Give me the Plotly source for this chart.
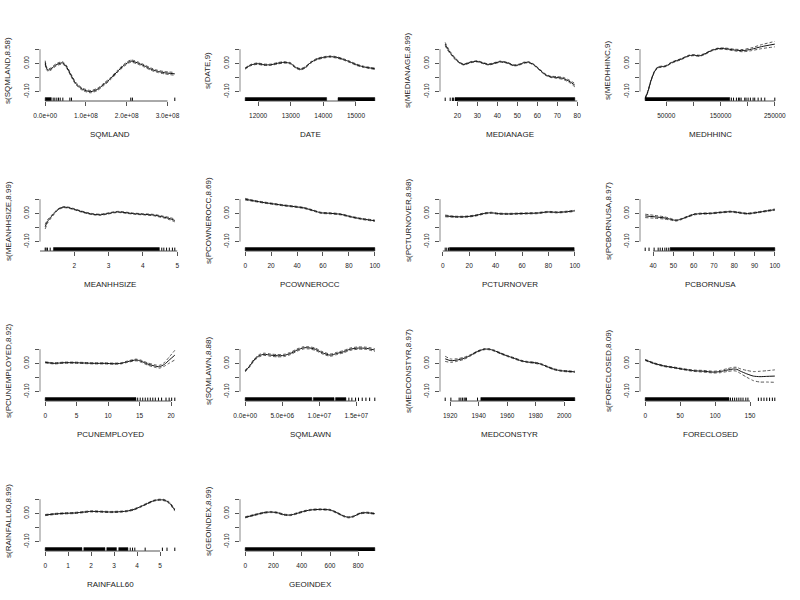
import plotly.graph_objects as go

# ---------------- data ----------------
NAMES = ["SQMLAND", "DATE", "MEDIANAGE", "MEDHHINC", "MEANHHSIZE", "PCOWNEROCC",
         "PCTURNOVER", "PCBORNUSA", "PCUNEMPLOYED", "SQMLAWN", "MEDCONSTYR",
         "FORECLOSED", "RAINFALL60", "GEOINDEX"]
EDF = ["8.58", "9", "8.99", "9", "8.99", "8.69", "8.98", "8.97", "8.92", "8.88",
       "8.97", "8.09", "8.99", "8.99"]

SQMLAND_X = [0, 0.033e8, 0.074e8, 0.14e8, 0.26e8, 0.42e8, 0.51e8, 0.63e8, 0.75e8, 0.92e8,
             1.12e8, 1.28e8, 1.45e8, 1.61e8, 1.77e8, 1.94e8, 2.10e8, 2.26e8, 2.43e8,
             2.59e8, 2.75e8, 2.92e8, 3.18e8]
SQMLAND_FIT = [0.0035, -0.018, -0.024, -0.020, -0.006, 0.002, -0.009, -0.041, -0.071, -0.092,
               -0.100, -0.092, -0.073, -0.053, -0.029, -0.006, 0.008, 0.002, -0.009,
               -0.020, -0.028, -0.033, -0.037]
SQMLAND_SE = [0.003, 0.0025, 0.002, 0.002, 0.002, 0.002, 0.002, 0.002, 0.002, 0.002,
              0.002, 0.002, 0.002, 0.002, 0.002, 0.002, 0.002, 0.002, 0.002,
              0.002, 0.002, 0.002, 0.0025]
SQMLAND_DENSE = [(0, 0.15e8)]
SQMLAND_RUG = [0.196e8, 0.237e8, 0.286e8, 0.327e8, 0.368e8, 0.433e8, 0.605e8, 0.645e8,
               2.10e8, 2.14e8, 3.18e8]
SQMLAND_TICKS = [0, 1e8, 2e8, 3e8]
SQMLAND_LABELS = ["0.0e+00", "1.0e+08", "2.0e+08", "3.0e+08"]

DATE_X = [11605, 11777, 11980, 12182, 12385, 12588, 12790, 12993, 13145, 13297, 13449,
          13601, 13803, 14006, 14209, 14411, 14614, 14817, 15019, 15222, 15577]
DATE_FIT = [-0.018, -0.006, -0.001, -0.005, -0.005, 0.000, 0.0035, 0.000, -0.014, -0.021,
            -0.014, 0.002, 0.015, 0.021, 0.024, 0.021, 0.014, 0.005, -0.005, -0.012, -0.019]
DATE_SE = [0.0012] * 21
DATE_DENSE = [(11605, 14100), (14450, 15577)]
DATE_RUG = []
DATE_TICKS = [12000, 13000, 14000, 15000]
DATE_LABELS = ["12000", "13000", "14000", "15000"]

MEDIANAGE_X = [13.9, 15.0, 16.7, 19.2, 21.7, 23.3, 26.6, 29.9, 33.3, 35.7, 38.2, 41.5, 44.9,
               48.2, 50.7, 53.2, 55.6, 58.1, 61.4, 63.9, 66.4, 69.7, 73.0, 76.4, 78.8]
MEDIANAGE_FIT = [0.068, 0.053, 0.035, 0.014, 0.000, -0.004, 0.004, 0.007, 0.000, -0.004,
                 0.000, 0.006, 0.002, -0.007, -0.005, 0.002, 0.004, -0.004, -0.024, -0.039,
                 -0.047, -0.050, -0.053, -0.065, -0.077]
MEDIANAGE_SE = [0.003, 0.0025, 0.002, 0.0015, 0.001, 0.001, 0.001, 0.001, 0.001, 0.001,
                0.001, 0.001, 0.001, 0.001, 0.001, 0.001, 0.001, 0.001, 0.001, 0.0012,
                0.0012, 0.0015, 0.0018, 0.0022, 0.003]
MEDIANAGE_DENSE = [(18.8, 78.8)]
MEDIANAGE_RUG = [13.9, 16.4, 17.5, 18.0]
MEDIANAGE_TICKS = [20, 30, 40, 50, 60, 70, 80]
MEDIANAGE_LABELS = ["20", "30", "40", "50", "60", "70", "80"]

MEDHHINC_X = [11300, 16200, 22300, 28400, 34600, 40800, 50000, 59300, 68500, 77700, 90100,
              99300, 111500, 120800, 133100, 145400, 157700, 176100, 191600, 207000,
              225400, 250000]
MEDHHINC_FIT = [-0.124, -0.100, -0.059, -0.029, -0.014, -0.012, -0.009, 0.002, 0.009, 0.015,
                0.026, 0.029, 0.027, 0.033, 0.045, 0.052, 0.052, 0.047, 0.045, 0.050,
                0.059, 0.068]
MEDHHINC_SE = [0.002, 0.0012, 0.001, 0.001, 0.001, 0.001, 0.001, 0.001, 0.001, 0.001, 0.001,
               0.001, 0.001, 0.001, 0.001, 0.001, 0.0012, 0.0015, 0.002, 0.0025, 0.0035, 0.0048]
MEDHHINC_DENSE = [(11300, 167000)]
MEDHHINC_RUG = [170000, 174000, 179300, 183000, 185400, 188000, 194600, 197000, 200800,
                205000, 210000, 213000, 219300, 225000, 231500, 250000]
MEDHHINC_TICKS = [50000, 100000, 150000, 200000, 250000]
MEDHHINC_LABELS = ["50000", "", "150000", "", "250000"]

MEANHHSIZE_X = [1.154, 1.22, 1.318, 1.414, 1.51, 1.607, 1.70, 1.80, 1.99, 2.19, 2.38, 2.57,
                2.76, 2.96, 3.15, 3.29, 3.53, 3.73, 4.02, 4.31, 4.60, 4.79, 4.93]
MEANHHSIZE_FIT = [-0.047, -0.029, -0.014, 0.000, 0.012, 0.019, 0.022, 0.021, 0.015, 0.007,
                  0.001, -0.0035, -0.005, -0.001, 0.0035, 0.005, 0.002, -0.001, -0.0035,
                  -0.006, -0.013, -0.019, -0.025]
MEANHHSIZE_SE = [0.004, 0.003, 0.002, 0.0015, 0.001, 0.001, 0.001, 0.001, 0.001, 0.001,
                 0.001, 0.001, 0.001, 0.001, 0.001, 0.001, 0.001, 0.001, 0.001, 0.0012,
                 0.0015, 0.002, 0.0025]
MEANHHSIZE_DENSE = [(1.395, 4.48)]
MEANHHSIZE_RUG = [1.154, 1.18, 1.22, 1.30, 4.55, 4.61, 4.69, 4.77, 4.86, 4.93]
MEANHHSIZE_TICKS = [1, 2, 3, 4, 5]
MEANHHSIZE_LABELS = ["1", "2", "3", "4", "5"]

PCOWNEROCC_X = [0, 6.9, 14.7, 22.4, 30.1, 37.8, 45.5, 53.2, 58.4, 66.1, 73.8, 81.5, 89.2, 100]
PCOWNEROCC_FIT = [0.050, 0.044, 0.038, 0.033, 0.028, 0.024, 0.019, 0.009, 0.002, 0.000,
                  -0.0035, -0.012, -0.019, -0.026]
PCOWNEROCC_SE = [0.0015, 0.001, 0.001, 0.001, 0.001, 0.001, 0.001, 0.001, 0.001, 0.001,
                 0.001, 0.001, 0.001, 0.0012]
PCOWNEROCC_DENSE = [(0, 100)]
PCOWNEROCC_RUG = []
PCOWNEROCC_TICKS = [0, 20, 40, 60, 80, 100]
PCOWNEROCC_LABELS = ["0", "20", "40", "60", "80", "100"]

PCTURNOVER_X = [1.8, 9.3, 16.8, 24.3, 31.8, 36.8, 41.9, 49.4, 56.9, 64.4, 71.9, 79.4, 87.0,
                94.5, 100]
PCTURNOVER_FIT = [-0.009, -0.012, -0.012, -0.008, 0.000, 0.002, -0.001, -0.002, -0.001,
                  0.000, 0.001, 0.005, 0.0035, 0.006, 0.009]
PCTURNOVER_SE = [0.0015, 0.001, 0.001, 0.001, 0.001, 0.001, 0.001, 0.001, 0.001, 0.001,
                 0.001, 0.001, 0.001, 0.001, 0.0012]
PCTURNOVER_DENSE = [(5.0, 99.5)]
PCTURNOVER_RUG = [1.8, 3.0, 4.3]
PCTURNOVER_TICKS = [0, 20, 40, 60, 80, 100]
PCTURNOVER_LABELS = ["0", "20", "40", "60", "80", "100"]

PCBORNUSA_X = [36.1, 40.5, 45.4, 48.7, 51.2, 53.6, 56.9, 60.2, 63.5, 68.4, 73.4, 78.3, 81.6,
               86.5, 91.5, 96.4, 100]
PCBORNUSA_FIT = [-0.009, -0.012, -0.016, -0.021, -0.025, -0.021, -0.012, -0.0035, -0.001,
                 0.000, 0.0035, 0.006, 0.0035, -0.001, 0.0035, 0.009, 0.013]
PCBORNUSA_SE = [0.003, 0.0025, 0.002, 0.0015, 0.0012, 0.001, 0.001, 0.001, 0.001, 0.001,
                0.001, 0.001, 0.001, 0.001, 0.001, 0.001, 0.0012]
PCBORNUSA_DENSE = [(48.4, 100)]
PCBORNUSA_RUG = [36.1, 38.0, 40.5, 42.5, 43.5, 44.6, 45.8, 46.7, 47.7]
PCBORNUSA_TICKS = [40, 50, 60, 70, 80, 90, 100]
PCBORNUSA_LABELS = ["40", "50", "60", "70", "80", "90", "100"]

PCUNEMPLOYED_X = [0, 1.43, 3.02, 4.62, 6.21, 7.80, 9.39, 10.98, 12.04, 13.1, 14.43, 15.2,
                  16.3, 17.35, 18.14, 18.94, 19.73, 20.6]
PCUNEMPLOYED_FIT = [0.0035, 0.000, 0.0024, 0.0024, 0.0012, 0.000, 0.000, -0.0012, 0.000,
                    0.006, 0.012, 0.008, -0.0024, -0.009, -0.012, -0.0035, 0.012, 0.029]
PCUNEMPLOYED_SE = [0.001, 0.001, 0.001, 0.001, 0.001, 0.001, 0.001, 0.001, 0.001, 0.0012,
                   0.0015, 0.0018, 0.002, 0.0022, 0.0025, 0.0032, 0.0055, 0.0085]
PCUNEMPLOYED_DENSE = [(0, 14.43)]
PCUNEMPLOYED_RUG = [14.7, 15.1, 15.5, 15.9, 16.3, 16.7, 17.1, 17.5, 18.0, 18.5, 19.2, 19.7,
                    20.1, 20.6]
PCUNEMPLOYED_TICKS = [0, 5, 10, 15, 20]
PCUNEMPLOYED_LABELS = ["0", "5", "10", "15", "20"]

SQMLAWN_X = [0, 0.54e6, 1.2e6, 1.88e6, 2.54e6, 3.44e6, 4.33e6, 5.22e6, 6.12e6, 7.0e6, 7.9e6,
             8.57e6, 9.46e6, 10.36e6, 11.47e6, 12.37e6, 13.26e6, 14.15e6, 15.27e6, 16.38e6,
             17.5e6]
SQMLAWN_FIT = [-0.027, -0.012, 0.012, 0.027, 0.032, 0.029, 0.027, 0.028, 0.035, 0.047, 0.055,
               0.055, 0.050, 0.038, 0.029, 0.035, 0.041, 0.050, 0.054, 0.053, 0.047]
SQMLAWN_SE = [0.0015, 0.0015, 0.0015, 0.002, 0.002, 0.002, 0.002, 0.002, 0.002, 0.002, 0.002,
              0.002, 0.002, 0.002, 0.002, 0.002, 0.002, 0.002, 0.002, 0.002, 0.0025]
SQMLAWN_DENSE = [(0, 9.0e6), (9.2e6, 12.0e6), (12.2e6, 13.6e6)]
SQMLAWN_RUG = [14.0e6, 14.4e6, 14.9e6, 15.3e6, 15.8e6, 16.3e6, 16.8e6, 17.5e6]
SQMLAWN_TICKS = [0, 5e6, 1e7, 1.5e7]
SQMLAWN_LABELS = ["0.0e+00", "5.0e+06", "1.0e+07", "1.5e+07"]

MEDCONSTYR_X = [1916.5, 1920.5, 1925.1, 1929.8, 1934.5, 1939.2, 1943.9, 1947.4, 1950.9,
                1955.6, 1960.2, 1964.9, 1969.6, 1974.3, 1978.9, 1983.6, 1988.3, 1993.0,
                1997.7, 2002.3, 2007.5]
MEDCONSTYR_FIT = [0.016, 0.0094, 0.012, 0.018, 0.029, 0.042, 0.050, 0.050, 0.045, 0.035,
                  0.026, 0.018, 0.0094, 0.0047, 0.0024, -0.0024, -0.012, -0.021, -0.026,
                  -0.028, -0.030]
MEDCONSTYR_SE = [0.0045, 0.003, 0.0022, 0.0018, 0.0012, 0.001, 0.001, 0.001, 0.001, 0.001,
                 0.001, 0.001, 0.001, 0.001, 0.001, 0.001, 0.001, 0.001, 0.001, 0.001, 0.0012]
MEDCONSTYR_DENSE = [(1941.5, 2007.5)]
MEDCONSTYR_RUG = [1916.5, 1920.5, 1926.3, 1927.5, 1928.6, 1929.8, 1930.6, 1931.4, 1939.2]
MEDCONSTYR_TICKS = [1920, 1940, 1960, 1980, 2000]
MEDCONSTYR_LABELS = ["1920", "1940", "1960", "1980", "2000"]

FORECLOSED_X = [0, 12.8, 27.0, 41.2, 55.4, 69.6, 83.8, 98.0, 107.4, 116.9, 126.4, 131.1,
                135.8, 145.3, 154.8, 164.2, 173.7, 185.5]
FORECLOSED_FIT = [0.012, 0.000, -0.0094, -0.015, -0.021, -0.026, -0.028, -0.031, -0.029,
                  -0.024, -0.020, -0.021, -0.027, -0.037, -0.045, -0.047, -0.046, -0.045]
FORECLOSED_SE = [0.001, 0.001, 0.001, 0.001, 0.001, 0.0012, 0.0015, 0.0015, 0.002, 0.0025,
                 0.003, 0.0035, 0.004, 0.006, 0.008, 0.0095, 0.010, 0.011]
FORECLOSED_DENSE = [(0, 120)]
FORECLOSED_RUG = [122, 125, 128, 131, 134, 137, 140, 144, 147, 162, 166, 170, 174, 178,
                  182, 185.5]
FORECLOSED_TICKS = [0, 50, 100, 150]
FORECLOSED_LABELS = ["0", "50", "100", "150"]

RAINFALL60_X = [0, 0.39, 0.83, 1.26, 1.70, 1.99, 2.42, 2.86, 3.29, 3.58, 3.87, 4.16, 4.45,
                4.74, 4.96, 5.17, 5.39, 5.64]
RAINFALL60_FIT = [-0.006, -0.0024, 0.000, 0.0012, 0.0047, 0.007, 0.006, 0.0047, 0.006,
                  0.0083, 0.014, 0.024, 0.035, 0.045, 0.048, 0.047, 0.038, 0.012]
RAINFALL60_SE = [0.001] * 15 + [0.0012, 0.0015, 0.002]
RAINFALL60_DENSE = [(0, 1.6), (1.68, 2.6), (2.68, 3.1), (3.2, 3.6)]
RAINFALL60_RUG = [3.7, 3.8, 3.9, 4.35, 5.1, 5.3, 5.64]
RAINFALL60_TICKS = [0, 1, 2, 3, 4, 5]
RAINFALL60_LABELS = ["0", "1", "2", "3", "4", "5"]

GEOINDEX_X = [0, 63, 133, 180, 227, 274, 320, 367, 414, 461, 531, 601, 648, 695, 730, 765,
              812, 858, 917]
GEOINDEX_FIT = [-0.014, -0.006, 0.0024, 0.0047, 0.0024, -0.0047, -0.006, 0.000, 0.007,
                0.012, 0.014, 0.012, 0.0024, -0.0094, -0.014, -0.011, 0.000, 0.0024, -0.0012]
GEOINDEX_SE = [0.001] * 19
GEOINDEX_DENSE = [(0, 917)]
GEOINDEX_RUG = []
GEOINDEX_TICKS = [0, 200, 400, 600, 800]
GEOINDEX_LABELS = ["0", "200", "400", "600", "800"]

# ---------------- assemble ----------------
g = globals()
panels = []
for n in NAMES:
    panels.append(dict(x=g[n + "_X"], fit=g[n + "_FIT"], se=g[n + "_SE"],
                       dense=g[n + "_DENSE"], rug=g[n + "_RUG"],
                       ticks=g[n + "_TICKS"], labels=g[n + "_LABELS"]))

Y_RANGE = [-0.133, 0.079]
Y_TICKS = [-0.10, -0.05, 0.00, 0.05]
Y_LABELS = ["-0.10", "", "0.00", ""]
RUG_H = 0.012
FONT = "Liberation Sans, Arial, Helvetica, sans-serif"
W, H = 800, 600

fig = go.Figure()
shapes = []
annotations = []
layout = {}

for i, p in enumerate(panels):
    r, c = divmod(i, 4)
    sfx = "" if i == 0 else str(i + 1)
    xa, ya = "x" + sfx, "y" + sfx
    upper = [f + 2 * s for f, s in zip(p["fit"], p["se"])]
    lower = [f - 2 * s for f, s in zip(p["fit"], p["se"])]

    for band in (upper, lower):
        fig.add_trace(go.Scatter(x=p["x"], y=band, xaxis=xa, yaxis=ya, mode="lines",
                                 line=dict(color="#444", width=0.9, dash="3px,2px",
                                           shape="spline", smoothing=0.6),
                                 hoverinfo="skip"))
    fig.add_trace(go.Scatter(x=p["x"], y=p["fit"], xaxis=xa, yaxis=ya, mode="lines",
                             line=dict(color="#111", width=1.0, shape="spline", smoothing=0.6)))

    y0 = Y_RANGE[0]
    y1 = Y_RANGE[0] + RUG_H
    for a, b in p["dense"]:
        fig.add_trace(go.Scatter(x=[a, b, b, a, a], y=[y0, y0, y1, y1, y0], xaxis=xa, yaxis=ya,
                                 mode="lines", fill="toself", fillcolor="#000",
                                 line=dict(color="#000", width=0.5), hoverinfo="skip"))
    if p["rug"]:
        rx, ry = [], []
        for v in p["rug"]:
            rx += [v, v, None]
            ry += [y0, y1, None]
        fig.add_trace(go.Scatter(x=rx, y=ry, xaxis=xa, yaxis=ya, mode="lines",
                                 line=dict(color="#000", width=1), hoverinfo="skip"))

    allx = list(p["x"]) + list(p["rug"]) + [v for d in p["dense"] for v in d]
    lo, hi = min(allx), max(allx)
    pad = 0.04 * (hi - lo)

    xdom = [(40 + 200 * c) / W, (180 + 200 * c) / W]
    ydom = [1 - (101 + 150 * r) / H, 1 - (41 + 150 * r) / H]
    tickfont = dict(size=6.5, family=FONT, color="#222")
    layout["xaxis" + sfx] = dict(domain=xdom, range=[lo - pad, hi + pad], anchor=ya,
                                 tickmode="array", tickvals=p["ticks"], ticktext=p["labels"],
                                 ticks="outside", ticklen=4, tickwidth=1, tickcolor="#555",
                                 showgrid=False, zeroline=False, showline=False,
                                 automargin=False, tickfont=tickfont, ticklabelstandoff=4)
    layout["yaxis" + sfx] = dict(domain=ydom, range=Y_RANGE, anchor=xa,
                                 tickmode="array", tickvals=Y_TICKS, ticktext=Y_LABELS,
                                 tickangle=-90, ticks="outside", ticklen=4, tickwidth=1,
                                 tickcolor="#555", showgrid=False, zeroline=False,
                                 showline=False, automargin=False, tickfont=tickfont,
                                 ticklabelstandoff=3)
    # R-style axis lines spanning only the tick range
    shapes.append(dict(type="line", xref=xa, yref=ya + " domain", x0=p["ticks"][0],
                       x1=p["ticks"][-1], y0=0, y1=0, line=dict(color="#555", width=1)))
    shapes.append(dict(type="line", xref=xa + " domain", yref=ya, x0=0, x1=0,
                       y0=Y_TICKS[0], y1=Y_TICKS[-1], line=dict(color="#888", width=1)))
    annotations.append(dict(text=NAMES[i], xref="paper", yref="paper",
                            x=(110 + 200 * c) / W, y=1 - (134 + 150 * r) / H,
                            xanchor="center", yanchor="middle", showarrow=False,
                            font=dict(size=8, family=FONT, color="#222")))
    annotations.append(dict(text="s(%s,%s)" % (NAMES[i], EDF[i]), xref="paper", yref="paper",
                            x=(8 + 200 * c) / W, y=1 - (71 + 150 * r) / H, textangle=-90,
                            xanchor="center", yanchor="middle", showarrow=False,
                            font=dict(size=8, family=FONT, color="#222")))

fig.update_layout(template="none", width=W, height=H, margin=dict(l=0, r=0, t=0, b=0),
                  paper_bgcolor="white", plot_bgcolor="white", showlegend=False,
                  shapes=shapes, annotations=annotations, **layout)
fig.write_html("out.html", config={"displayModeBar": False},
               post_script="document.body.style.margin='0px';")
